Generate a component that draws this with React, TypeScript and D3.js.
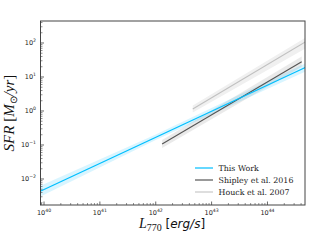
import React from "react";
import * as d3 from "d3";

// L770 [erg/s] vs SFR [Msun/yr]
const thisWorkL = [8e39, 5e44];
const thisWorkSFR = [0.00413, 19.8];
const thisWorkBandL = [8e39, 1e42, 5e44];
const thisWorkLow = [0.00286, 0.141, 15.0];
const thisWorkHigh = [0.00597, 0.204, 26.1];

const shipleyL = [1.3e42, 4.1e44];
const shipleySFR = [0.107, 28.2];
const shipleyLow = [0.081, 19.9];
const shipleyHigh = [0.141, 39.8];

const houckL = [4.6e42, 5e44];
const houckSFR = [1.15, 113.5];
const houckLow = [0.91, 71.6];
const houckHigh = [1.44, 150];

const xTicks = [40, 41, 42, 43, 44];
const yTicks = [-2, -1, 0, 1, 2];

const legendItems = [
  { label: "This Work", color: "#00bfff" },
  { label: "Shipley et al. 2016", color: "#555555" },
  { label: "Houck et al. 2007", color: "#c8c8c8" },
];

export default function App() {
  const width = 320;
  const height = 240;
  const margin = { top: 21, right: 15, bottom: 35, left: 40.5 };
  const iw = width - margin.left - margin.right;
  const ih = height - margin.top - margin.bottom;

  const x = d3.scaleLog().domain([Math.pow(10, 39.937), Math.pow(10, 44.672)]).range([0, iw]);
  const y = d3.scaleLog().domain([Math.pow(10, -2.765), Math.pow(10, 2.647)]).range([ih, 0]);

  const line = d3.line<[number, number]>().x(d => x(d[0])).y(d => y(d[1]));
  const area = d3.area<[number, number, number]>()
    .x(d => x(d[0]))
    .y0(d => y(d[1]))
    .y1(d => y(d[2]));

  const zip2 = (a: number[], b: number[]) => a.map((v, i) => [v, b[i]] as [number, number]);
  const zip3 = (a: number[], b: number[], c: number[]) => a.map((v, i) => [v, b[i], c[i]] as [number, number, number]);

  // minor ticks
  const xMinor: number[] = [];
  for (let e = 39; e <= 44; e++) for (let m = 2; m <= 9; m++) {
    const v = m * Math.pow(10, e);
    if (v >= x.domain()[0] && v <= x.domain()[1]) xMinor.push(v);
  }
  const yMinor: number[] = [];
  for (let e = -3; e <= 2; e++) for (let m = 2; m <= 9; m++) {
    const v = m * Math.pow(10, e);
    if (v >= y.domain()[0] && v <= y.domain()[1]) yMinor.push(v);
  }

  const axisColor = "#444";
  const tickFont = "DejaVu Sans, sans-serif";

  return (
    <svg width={width} height={height} style={{ position: "absolute", left: 0, top: 0, background: "#fff" }}>
      <defs>
        <clipPath id="plot">
          <rect x={0} y={0} width={iw} height={ih} />
        </clipPath>
      </defs>
      <g transform={`translate(${margin.left},${margin.top})`}>
        <g clipPath="url(#plot)">
          <path d={area(zip3(houckL, houckLow, houckHigh)) || ""} fill="#f0f0f0" />
          <path d={area(zip3(shipleyL, shipleyLow, shipleyHigh)) || ""} fill="#bbbbbb" fillOpacity={0.3} />
          <path d={area(zip3(thisWorkBandL, thisWorkLow, thisWorkHigh)) || ""} fill="#00bfff" fillOpacity={0.15} />
          <path d={line(zip2(houckL, houckSFR)) || ""} fill="none" stroke="#c0c0c0" strokeWidth={1.1} />
          <path d={line(zip2(shipleyL, shipleySFR)) || ""} fill="none" stroke="#555555" strokeWidth={1.1} />
          <path d={line(zip2(thisWorkL, thisWorkSFR)) || ""} fill="none" stroke="#00bfff" strokeWidth={1.2} />
        </g>

        <rect x={0} y={0} width={iw} height={ih} fill="none" stroke={axisColor} strokeWidth={1} />

        {/* x ticks */}
        {xMinor.map((v, i) => (
          <line key={"xm" + i} x1={x(v)} x2={x(v)} y1={ih} y2={ih - 2} stroke={axisColor} strokeWidth={0.6} />
        ))}
        {xTicks.map(e => (
          <g key={"xt" + e} transform={`translate(${x(Math.pow(10, e))},${ih})`}>
            <line y1={0} y2={-3.5} stroke={axisColor} strokeWidth={0.8} />
            <text y={9.5} textAnchor="middle" fontFamily={tickFont} fontSize={6.5} fill="#222">
              10<tspan dy={-3} fontSize={4.6}>{e}</tspan>
            </text>
          </g>
        ))}

        {/* y ticks */}
        {yMinor.map((v, i) => (
          <line key={"ym" + i} x1={0} x2={2} y1={y(v)} y2={y(v)} stroke={axisColor} strokeWidth={0.6} />
        ))}
        {yTicks.map(e => (
          <g key={"yt" + e} transform={`translate(0,${y(Math.pow(10, e))})`}>
            <line x1={0} x2={3.5} stroke={axisColor} strokeWidth={0.8} />
            <text x={-4.5} y={2.3} textAnchor="end" fontFamily={tickFont} fontSize={6.5} fill="#222">
              10<tspan dy={-3} fontSize={4.6}>{e < 0 ? "\u2212" + Math.abs(e) : e}</tspan>
            </text>
          </g>
        ))}

        {/* legend */}
        {legendItems.map((d, i) => (
          <g key={d.label} transform={`translate(${195 - margin.left},${168 - margin.top + i * 12})`}>
            <line x1={0} x2={18} y1={0} y2={0} stroke={d.color} strokeWidth={1.2} />
            <text x={23.5} y={2.8} fontFamily="DejaVu Serif, serif" fontSize={7.9} fill="#222">
              {d.label}
            </text>
          </g>
        ))}
      </g>

      {/* axis labels */}
      <text x={172} y={228} textAnchor="middle" fontSize={14} fill="#111">
        <tspan fontFamily="Liberation Serif, serif" fontStyle="italic">L</tspan>
        <tspan fontFamily="Liberation Serif, serif" fontSize={10} dy={3}>770</tspan>
        <tspan fontFamily="DejaVu Sans, sans-serif" dy={-3} fontSize={12}>{"  ["}</tspan>
        <tspan fontFamily="DejaVu Sans, sans-serif" fontStyle="italic" fontSize={12}>erg/s</tspan>
        <tspan fontFamily="DejaVu Sans, sans-serif" fontSize={12}>]</tspan>
      </text>
      <text transform="translate(14,113) rotate(-90)" textAnchor="middle" fontSize={15} fill="#111"
        fontFamily="Liberation Serif, serif">
        <tspan fontStyle="italic">SFR</tspan>
        <tspan>{" ["}</tspan>
        <tspan fontStyle="italic">M</tspan>
        <tspan fontSize={10} dy={3}>{"\u2299"}</tspan>
        <tspan dy={-3} fontStyle="italic">/yr</tspan>
        <tspan>]</tspan>
      </text>
    </svg>
  );
}
